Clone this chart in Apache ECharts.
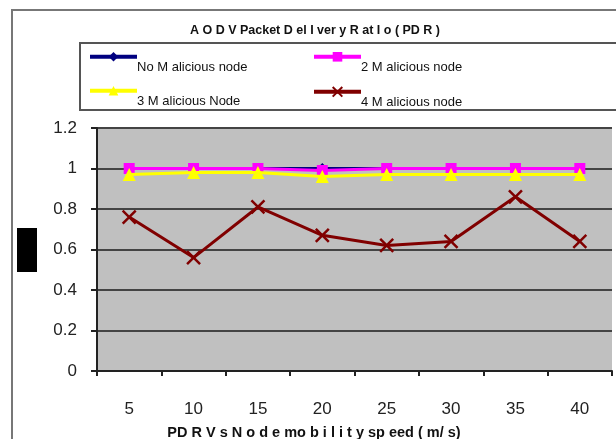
<!DOCTYPE html>
<html><head><meta charset="utf-8">
<script src="https://cdn.jsdelivr.net/npm/echarts@6/dist/echarts.min.js"></script>
<style>html,body{margin:0;padding:0;background:#fff}#c{width:616px;height:439px}</style>
</head><body><div id="c"></div>
<script>
const categories = ['5','10','15','20','25','30','35','40'];
const seriesNames = ['No M alicious node','2 M alicious node','3 M alicious Node','4 M alicious node'];
const noMalicious = [1, 1, 1, 1, 1, 1, 1, 1];
const twoMalicious = [1, 1, 1, 0.99, 1, 1, 1, 1];
const threeMalicious = [0.97, 0.98, 0.98, 0.96, 0.97, 0.97, 0.97, 0.97];
const fourMalicious = [0.76, 0.56, 0.81, 0.67, 0.62, 0.64, 0.86, 0.64];
const yTicks = [0, 0.2, 0.4, 0.6, 0.8, 1, 1.2];

const chart = echarts.init(document.getElementById('c'));
const xPath = 'path://M0,0L10,10M10,0L0,10';
const colors = ['#000080','#ff00ff','#ffff00','#800000'];
const symbols = ['diamond','rect','triangle',xPath];
const datas = [noMalicious, twoMalicious, threeMalicious, fourMalicious];
const legendPos = [[88,52],[312,52],[88,86],[312,86]];

chart.setOption({
  animation:false,
  backgroundColor:'#fff',
  title:[
    {text:'A O D V Packet D el I ver y R at I o ( PD R )', left:310, textAlign:'center', top:19,
     textStyle:{fontFamily:'Liberation Sans, Arial', fontSize:12.5, fontWeight:'bold', color:'#111'}},
    {text:'PD R V s N o d e mo b i l i t y sp eed ( m/ s)', left:314, textAlign:'center', top:425, padding:0,
     textStyle:{fontFamily:'Liberation Sans, Arial', fontSize:14.5, fontWeight:'bold', color:'#111'}}
  ],
  legend: seriesNames.map((n,i)=>({
    data:[n], left:legendPos[i][0], top:legendPos[i][1], itemWidth:47, itemHeight:12, itemGap:0, padding:0,
    lineStyle:{width:4},
    formatter:'{a|{name}}',
    textStyle:{fontFamily:'Liberation Sans, Arial', fontSize:13, color:'#111',
      rich:{a:{fontFamily:'Liberation Sans, Arial', fontSize:13, color:'#111', padding:[22,0,0,-5]}}}
  })),
  graphic:[
    {type:'rect', shape:{x:12,y:10,width:640,height:450}, style:{fill:'none', stroke:'#777', lineWidth:2}, z:-1},
    {type:'rect', shape:{x:80,y:43,width:560,height:67}, style:{fill:'none', stroke:'#555', lineWidth:2}},
    {type:'rect', shape:{x:17,y:228,width:20,height:44}, style:{fill:'#000'}}
  ],
  grid:{left:97, right:4, top:128, bottom:68, outerBoundsMode:'none', show:true, backgroundColor:'#c0c0c0', borderWidth:0},
  xAxis:{type:'category', data:categories, boundaryGap:true,
    axisLine:{lineStyle:{color:'#222', width:2}},
    axisTick:{show:true, length:5, lineStyle:{color:'#222', width:2}},
    axisLabel:{margin:30, fontFamily:'Liberation Sans, Arial', fontSize:17, color:'#222'},
    splitLine:{show:false}
  },
  yAxis:{type:'value', min:0, max:1.2, interval:0.2,
    axisLine:{show:true, lineStyle:{color:'#222', width:2}},
    axisTick:{show:true, length:6, lineStyle:{color:'#222', width:2}},
    axisLabel:{margin:20, fontFamily:'Liberation Sans, Arial', fontSize:17, color:'#222',
      formatter:v=>String(Math.round(v*10)/10)},
    splitLine:{show:true, lineStyle:{color:'#444', width:2}}
  },
  series: seriesNames.map((n,i)=>({
    name:n, type:'line', data:datas[i], symbol:symbols[i],
    symbolSize: i===3?13:(i===2?13:11),
    lineStyle:{color:colors[i], width:3},
    itemStyle:{color:colors[i], borderColor:colors[i], borderWidth: i===3?2.5:0},
    z: [2,3,4,5][i]
  }))
});
</script></body></html>
